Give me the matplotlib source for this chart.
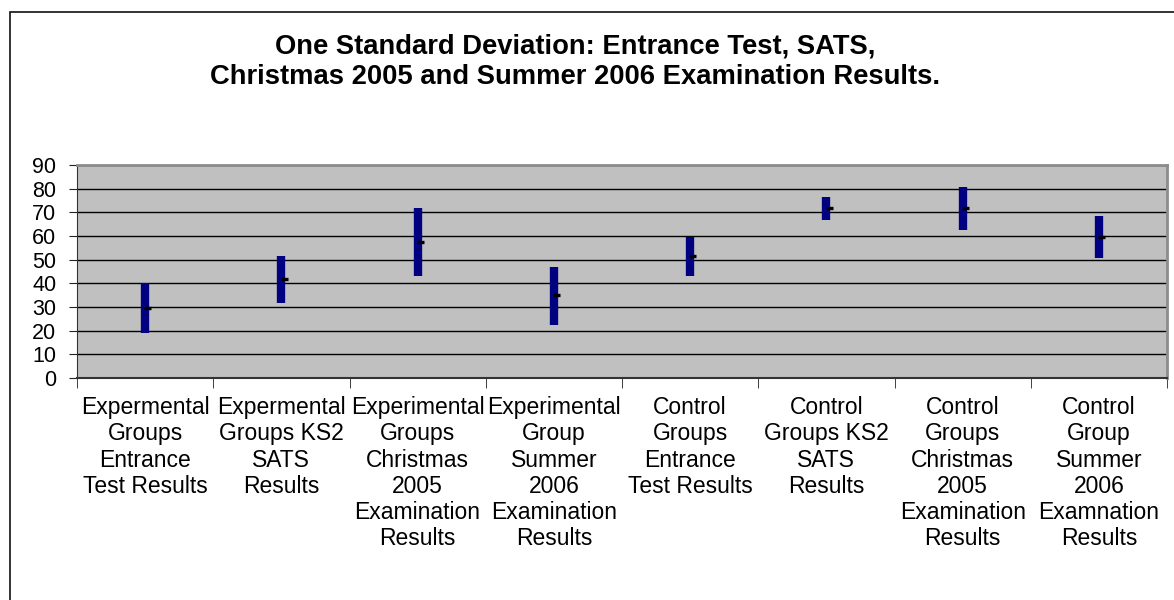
import matplotlib.pyplot as plt
import matplotlib.patches as patches
import numpy as np

plt.rcParams['font.family'] = ['Liberation Sans', 'DejaVu Sans']

# groups along the x axis
categories = [
    'Expermental\nGroups\nEntrance\nTest Results',
    'Expermental\nGroups KS2\nSATS\nResults',
    'Experimental\nGroups\nChristmas\n2005\nExamination\nResults',
    'Experimental\nGroup\nSummer\n2006\nExamination\nResults',
    'Control\nGroups\nEntrance\nTest Results',
    'Control\nGroups KS2\nSATS\nResults',
    'Control\nGroups\nChristmas\n2005\nExamination\nResults',
    'Control\nGroup\nSummer\n2006\nExamnation\nResults',
]
# mean + / - one standard deviation
high = [40.0, 51.7, 71.8, 47.0, 59.5, 76.4, 80.7, 68.6]
low = [18.9, 31.5, 43.1, 22.6, 43.1, 66.8, 62.6, 50.6]
mean = [29.4, 41.8, 57.6, 34.9, 51.4, 71.8, 71.8, 59.7]

fig = plt.figure(figsize=(11.74, 6.0), dpi=100)
ax = fig.add_axes([77 / 1174, 1 - 378 / 600, (1167 - 77) / 1174, (378 - 165) / 600])

x = np.arange(1, len(categories) + 1)
ax.set_facecolor('#c0c0c0')
ax.set_xlim(0.5, len(categories) + 0.5)
ax.set_ylim(0, 90)
ax.set_yticks(np.arange(0, 91, 10))
ax.grid(axis='y', color='black', lw=1)
ax.set_axisbelow(True)

# high-low bars and close ticks
ax.vlines(x, low, high, color='#000080', lw=6)
ax.hlines(mean, x - 0.005, x + 0.045, color='black', lw=2.4)

ax.set_xticks(x)
ax.set_xticklabels(categories, fontsize=16.5, linespacing=1.18)
ax.set_xticks(np.arange(0.5, len(categories) + 1), minor=True)
ax.tick_params(axis='x', which='major', length=0, pad=13)
ax.tick_params(axis='x', which='minor', length=7, direction='out', color='#222222')
ax.tick_params(axis='y', length=6, labelsize=15.5, pad=9, color='#222222')

for side in ['top', 'right']:
    ax.spines[side].set_color('#8c8c8c')
    ax.spines[side].set_linewidth(2)
ax.spines['left'].set_color('#333333')
ax.spines['bottom'].set_color('#333333')
ax.spines['bottom'].set_linewidth(1.5)

fig.text(575.5 / 1174, 1 - 62 / 600,
         'One Standard Deviation: Entrance Test, SATS,\nChristmas 2005 and Summer 2006 Examination Results.',
         ha='center', va='center', fontsize=19.7, fontweight='bold', linespacing=1.22)

# outer chart frame (runs off the right and bottom edges)
frame = patches.Rectangle((9.5 / 1174, -0.1), 1.2, 1 - 12 / 600 + 0.1,
                          transform=fig.transFigure, fill=False,
                          edgecolor='#111111', lw=1.2)
fig.patches.append(frame)

fig.savefig('out.png', dpi=100)
